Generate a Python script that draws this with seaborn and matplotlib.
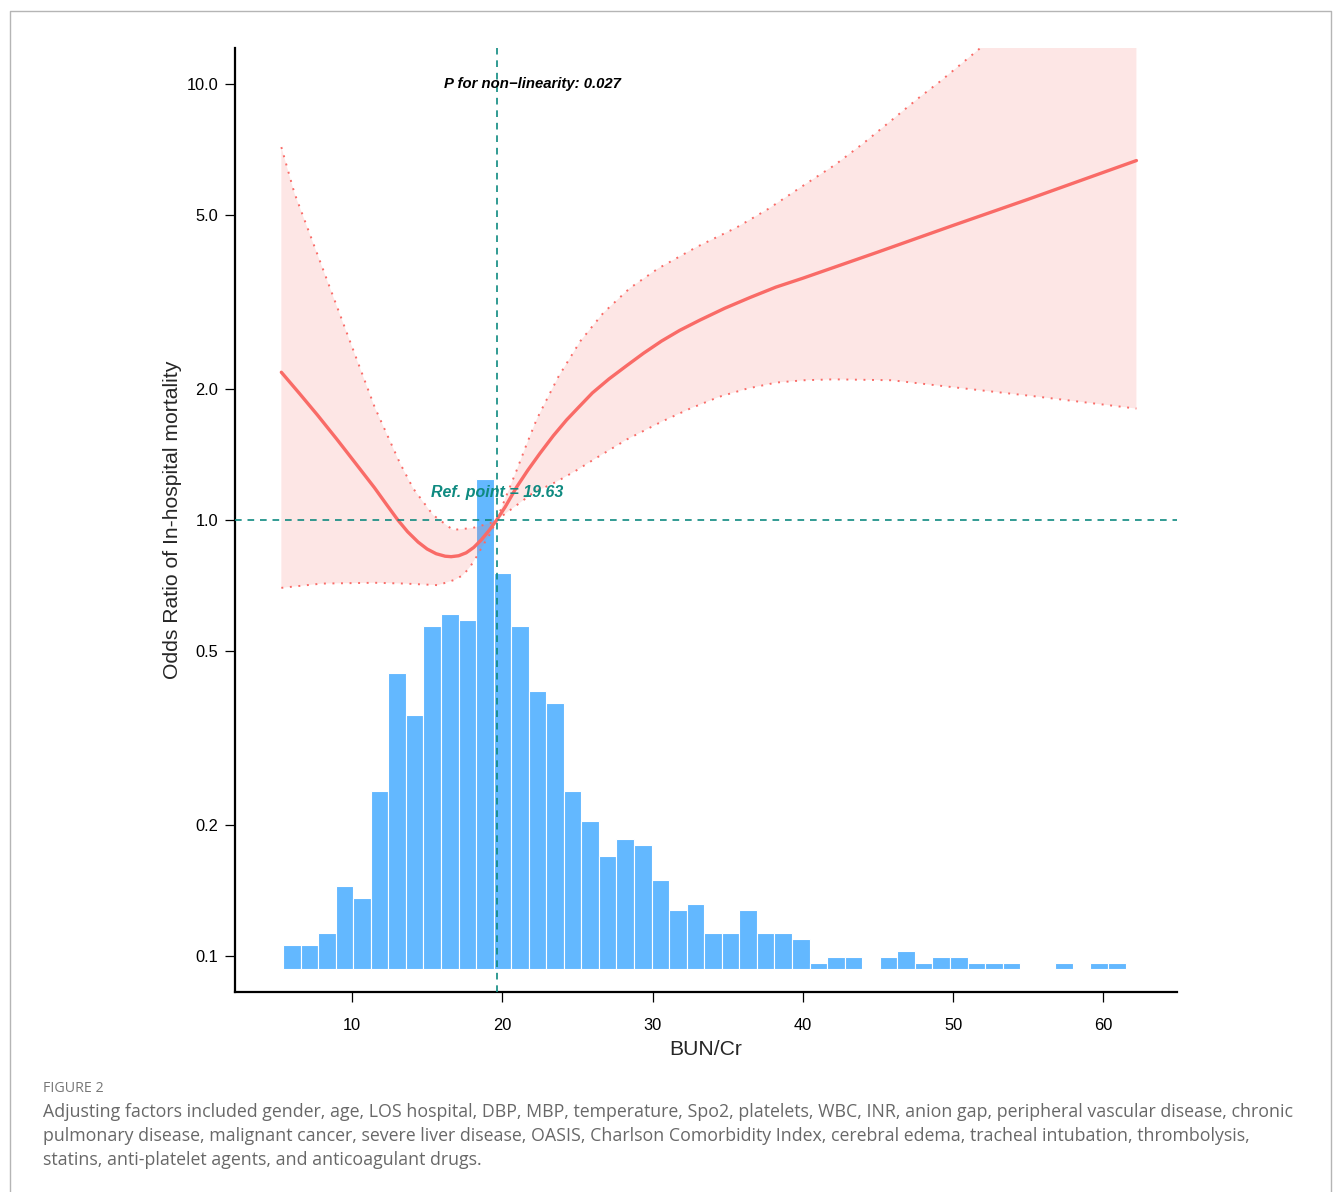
import numpy as np
import pandas as pd
import matplotlib
matplotlib.use("Agg")
import matplotlib.pyplot as plt
import seaborn as sns
from matplotlib.lines import Line2D

# ---- data ----
REF_POINT = 19.63
P_NONLIN = 0.027

# fitted odds ratio curve
or_x = [5.3, 6.5, 7.7, 9.0, 10.3, 11.5, 12.3, 13.05, 13.7, 14.4, 15.0, 15.6,
        16.2, 16.6, 17.1, 17.6, 18.1, 18.6, 19.1, 19.63, 20.2, 20.96, 21.7,
        22.5, 23.4, 24.28, 25.1, 26.0, 27.1, 28.3, 29.4, 30.6, 31.8, 33.15,
        34.8, 36.5, 38.2, 40.0, 45.0, 50.0, 55.0, 62.2]
or_y = [2.18, 1.95, 1.74, 1.53, 1.34, 1.185, 1.085, 1.0, 0.94, 0.89, 0.858,
        0.837, 0.826, 0.824, 0.828, 0.841, 0.865, 0.90, 0.944, 1.0, 1.072,
        1.19, 1.30, 1.42, 1.56, 1.695, 1.815, 1.955, 2.104, 2.26, 2.41, 2.57,
        2.718, 2.87, 3.055, 3.235, 3.415, 3.58, 4.11, 4.73, 5.43, 6.66]

# upper 95% CI
up_x = [5.3, 6.17, 7.7, 9.61, 11.52, 13.19, 14.08, 15.39, 16.72, 18.05, 19.18,
        19.63, 20.29, 20.96, 21.62, 22.29, 23.0, 23.74, 25.2, 26.72, 28.5,
        30.38, 32.93, 35.6, 37.7, 40.14, 42.14, 44.02, 45.8, 47.68, 49.12,
        50.46, 51.79, 54.0, 58.0, 62.2]
up_y = [7.15, 5.61, 4.06, 2.71, 1.81, 1.35, 1.18, 1.027, 0.949, 0.959, 0.983,
        1.0, 1.14, 1.30, 1.49, 1.70, 1.90, 2.13, 2.57, 2.98, 3.40,
        3.77, 4.22, 4.68, 5.16, 5.87, 6.51, 7.29, 8.18, 9.25, 10.10,
        11.03, 12.04, 14.0, 18.0, 23.0]

# lower 95% CI
lo_x = [5.3, 8.0, 11.52, 13.5, 15.72, 16.87, 17.39, 17.85, 18.3, 18.72, 19.18,
        19.63, 20.71, 22.04, 23.62, 24.95, 26.03, 28.3, 30.61, 32.5, 34.43,
        36.3, 38.25, 40.1, 42.07, 45.9, 49.7, 55.44, 62.2]
lo_y = [0.699, 0.715, 0.718, 0.715, 0.709, 0.73, 0.748, 0.78, 0.825, 0.875,
        0.928, 1.0, 1.065, 1.153, 1.224, 1.30, 1.372, 1.53, 1.68, 1.80, 1.915,
        2.00, 2.065, 2.09, 2.10, 2.09, 2.02, 1.92, 1.80]

# histogram of BUN/Cr (counts per bin)
BIN_START = 5.41
BIN_WIDTH = 1.168
hist_counts = [4, 4, 6, 14, 12, 30, 50, 43, 58, 60, 59, 83, 67, 58, 47, 45,
               30, 25, 19, 22, 21, 15, 10, 11, 6, 6, 10, 6, 6, 5, 1, 2,
               2, 0, 2, 3, 1, 2, 2, 1, 1, 1, 0, 0, 1, 0, 1, 1]

x_ticks = [10, 20, 30, 40, 50, 60]
y_ticks = [0.1, 0.2, 0.5, 1.0, 2.0, 5.0, 10.0]

caption_head = "FIGURE 2"
caption_lines = [
    "Adjusting factors included gender, age, LOS hospital, DBP, MBP, temperature, Spo2, platelets, WBC, INR, anion gap, peripheral vascular disease, chronic",
    "pulmonary disease, malignant cancer, severe liver disease, OASIS, Charlson Comorbidity Index, cerebral edema, tracheal intubation, thrombolysis,",
    "statins, anti-platelet agents, and anticoagulant drugs.",
]

# ---- style ----
sns.set_style("ticks")
plt.rcParams['font.family'] = ['Liberation Sans', 'DejaVu Sans']

RED = "#F96B67"
BLUE = "#63B8FF"
TEAL = "#0E8A80"

W, H = 1333, 1192
fig = plt.figure(figsize=(W / 100, H / 100), dpi=100)
pos = [235 / W, 1 - 992 / H, (1177 - 235) / W, (992 - 48) / H]

# histogram sits underneath the curve
ax_h = fig.add_axes(pos)
n_bins = len(hist_counts)
edges = BIN_START + BIN_WIDTH * np.arange(n_bins + 1)
hist_df = pd.DataFrame({"bun_cr": (edges[:-1] + edges[1:]) / 2, "n": hist_counts})
sns.histplot(data=hist_df, x="bun_cr", weights="n", bins=list(edges), ax=ax_h,
             color=BLUE, edgecolor="white", linewidth=0.8, alpha=1.0)
ax_h.set_xlim(2.216, 64.9)
ax_h.set_ylim(-3.98, 156.0)
ax_h.axis("off")

ax = fig.add_axes(pos)
ax.patch.set_alpha(0)
ax.set_yscale("log")

# confidence band
band_x = np.r_[up_x, lo_x[::-1]]
band_y = np.r_[up_y, lo_y[::-1]]
ax.fill(band_x, band_y, color=RED, alpha=0.17, lw=0, zorder=1)
ax.plot(up_x, up_y, color=RED, lw=1.4, ls=(0, (1, 3.4)), zorder=2)
ax.plot(lo_x, lo_y, color=RED, lw=1.4, ls=(0, (1, 3.4)), zorder=2)
sns.lineplot(x=or_x, y=or_y, ax=ax, color=RED, lw=2.4, zorder=3)

ax.axhline(1.0, color=TEAL, lw=1.2, ls=(0, (4, 3.5)), zorder=4)
ax.axvline(REF_POINT, color=TEAL, lw=1.2, ls=(0, (4, 3.5)), zorder=4)

ax.text(REF_POINT, 1.153, f"Ref. point = {REF_POINT:.2f}", color=TEAL,
        fontsize=11.5, fontweight="bold", fontstyle="italic",
        ha="center", va="center", zorder=5)
ax.text(22.0, 10.0, f"P for non\u2212linearity: {P_NONLIN:.3f}", color="black",
        fontsize=10.7, fontweight="bold", fontstyle="italic",
        ha="center", va="center", zorder=5)

ax.set_xlim(2.216, 64.9)
ax.set_ylim(0.0829, 12.06)
ax.set_xticks(x_ticks)
ax.set_xticklabels([str(t) for t in x_ticks])
ax.set_yticks(y_ticks)
ax.set_yticklabels([f"{t:.1f}" for t in y_ticks])
ax.minorticks_off()
ax.tick_params(axis="both", labelsize=11.8, length=7, width=0.9,
               direction="out", colors="black")
ax.tick_params(axis="x", pad=12)
ax.tick_params(axis="y", pad=5)
for side in ["top", "right"]:
    ax.spines[side].set_visible(False)
for side in ["left", "bottom"]:
    ax.spines[side].set_linewidth(1.6)
    ax.spines[side].set_color("black")

ax.set_xlabel("BUN/Cr", fontsize=15.2, labelpad=5)
ax.set_ylabel("Odds Ratio of In-hospital mortality", fontsize=15.2, labelpad=3)

# caption below the figure
fig.text(43 / W, 1 - 1088 / H, caption_head, fontsize=10.3, color="#777777",
         family=["Open Sans", "DejaVu Sans"], va="center", ha="left")
for i, line in enumerate(caption_lines):
    fig.text(43 / W, 1 - (1112 + 24 * i) / H, line, fontsize=12.8,
             color="#686868", family=["Open Sans", "DejaVu Sans"],
             va="center", ha="left")

# thin page frame
frame = Line2D([10 / W, 10 / W, 1331 / W, 1331 / W],
               [0, 1 - 11 / H, 1 - 11 / H, 0],
               transform=fig.transFigure, color="#b5b5b5", lw=1.0)
fig.add_artist(frame)

fig.savefig("out.png", dpi=100)
